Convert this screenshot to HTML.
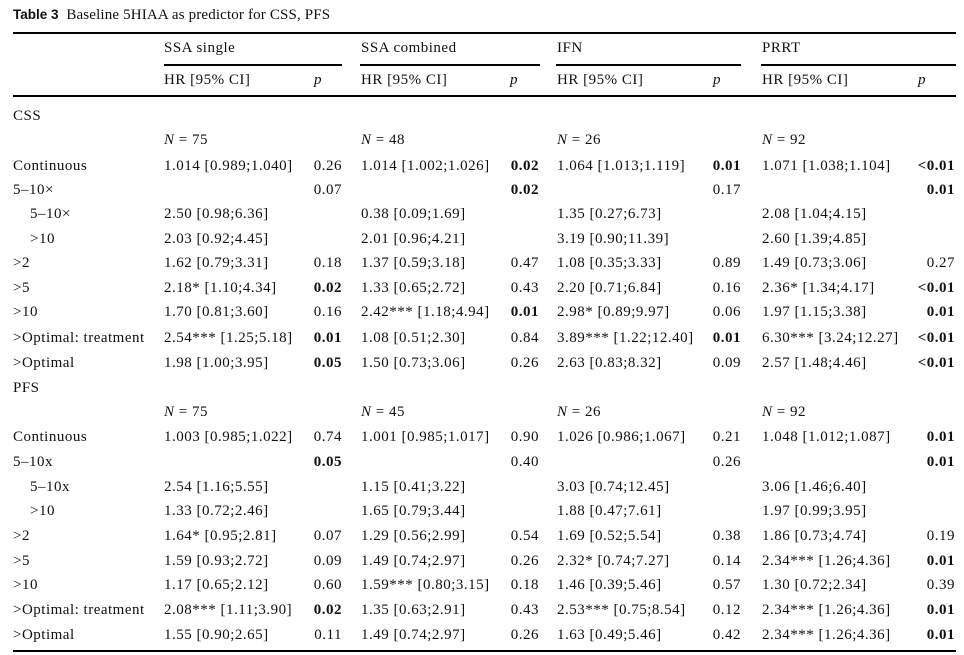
<!DOCTYPE html>
<html><head><meta charset="utf-8"><style>
body{margin:0;width:964px;height:655px;background:#fff;position:relative;overflow:hidden;font-family:"Liberation Serif",serif;font-size:15px;letter-spacing:0.5px;color:#111}
.r{position:absolute;left:0;width:964px;height:18px;line-height:18px;margin-top:1px}
.r span{position:absolute;white-space:nowrap}
.l{left:13px}.i{left:30px}
.a{left:164px}.ap{right:622px}
.b{left:361px}.bp{right:425px}
.c{left:557px}.cp{right:223px}
.d{left:762px}.dp{right:9px}
b{font-weight:bold}
.hl{position:absolute;background:#000}
em{font-style:italic}
</style></head><body>
<div class="r" style="top:5px;letter-spacing:0.15px"><span class="l"><b style="font-family:'Liberation Sans',sans-serif;font-size:13.5px;letter-spacing:0">Table 3</b>&nbsp; Baseline 5HIAA as predictor for CSS, PFS</span></div>
<div class="hl" style="left:13px;top:32px;width:943px;height:2px"></div>
<div class="r" style="top:38px"><span class="a">SSA single</span><span class="b">SSA combined</span><span class="c">IFN</span><span class="d">PRRT</span></div>
<div class="hl" style="left:164px;top:64px;width:178px;height:2px"></div>
<div class="hl" style="left:360px;top:64px;width:180px;height:2px"></div>
<div class="hl" style="left:556px;top:64px;width:185px;height:2px"></div>
<div class="hl" style="left:761px;top:64px;width:195px;height:2px"></div>
<div class="r" style="top:70px"><span class="a">HR [95% CI]</span><span style="left:314px"><em>p</em></span><span class="b">HR [95% CI]</span><span style="left:510px"><em>p</em></span><span class="c">HR [95% CI]</span><span style="left:713px"><em>p</em></span><span class="d">HR [95% CI]</span><span style="left:918px"><em>p</em></span></div>
<div class="hl" style="left:13px;top:95px;width:943px;height:2px"></div>

<div class="r" style="top:106px"><span class="l">CSS</span></div>
<div class="r" style="top:130px"><span class="a"><em>N</em> = 75</span><span class="b"><em>N</em> = 48</span><span class="c"><em>N</em> = 26</span><span class="d"><em>N</em> = 92</span></div>
<div class="r" style="top:156px"><span class="l">Continuous</span><span class="a">1.014 [0.989;1.040]</span><span class="ap">0.26</span><span class="b">1.014 [1.002;1.026]</span><span class="bp"><b>0.02</b></span><span class="c">1.064 [1.013;1.119]</span><span class="cp"><b>0.01</b></span><span class="d">1.071 [1.038;1.104]</span><span class="dp"><b>&lt;0.01</b></span></div>
<div class="r" style="top:180px"><span class="l">5–10×</span><span class="ap">0.07</span><span class="bp"><b>0.02</b></span><span class="cp">0.17</span><span class="dp"><b>0.01</b></span></div>
<div class="r" style="top:204px"><span class="i">5–10×</span><span class="a">2.50 [0.98;6.36]</span><span class="b">0.38 [0.09;1.69]</span><span class="c">1.35 [0.27;6.73]</span><span class="d">2.08 [1.04;4.15]</span></div>
<div class="r" style="top:229px"><span class="i">&gt;10</span><span class="a">2.03 [0.92;4.45]</span><span class="b">2.01 [0.96;4.21]</span><span class="c">3.19 [0.90;11.39]</span><span class="d">2.60 [1.39;4.85]</span></div>
<div class="r" style="top:253px"><span class="l">&gt;2</span><span class="a">1.62 [0.79;3.31]</span><span class="ap">0.18</span><span class="b">1.37 [0.59;3.18]</span><span class="bp">0.47</span><span class="c">1.08 [0.35;3.33]</span><span class="cp">0.89</span><span class="d">1.49 [0.73;3.06]</span><span class="dp">0.27</span></div>
<div class="r" style="top:278px"><span class="l">&gt;5</span><span class="a">2.18* [1.10;4.34]</span><span class="ap"><b>0.02</b></span><span class="b">1.33 [0.65;2.72]</span><span class="bp">0.43</span><span class="c">2.20 [0.71;6.84]</span><span class="cp">0.16</span><span class="d">2.36* [1.34;4.17]</span><span class="dp"><b>&lt;0.01</b></span></div>
<div class="r" style="top:302px"><span class="l">&gt;10</span><span class="a">1.70 [0.81;3.60]</span><span class="ap">0.16</span><span class="b">2.42*** [1.18;4.94]</span><span class="bp"><b>0.01</b></span><span class="c">2.98* [0.89;9.97]</span><span class="cp">0.06</span><span class="d">1.97 [1.15;3.38]</span><span class="dp"><b>0.01</b></span></div>
<div class="r" style="top:328px"><span class="l">&gt;Optimal: treatment</span><span class="a">2.54*** [1.25;5.18]</span><span class="ap"><b>0.01</b></span><span class="b">1.08 [0.51;2.30]</span><span class="bp">0.84</span><span class="c">3.89*** [1.22;12.40]</span><span class="cp"><b>0.01</b></span><span class="d">6.30*** [3.24;12.27]</span><span class="dp"><b>&lt;0.01</b></span></div>
<div class="r" style="top:353px"><span class="l">&gt;Optimal</span><span class="a">1.98 [1.00;3.95]</span><span class="ap"><b>0.05</b></span><span class="b">1.50 [0.73;3.06]</span><span class="bp">0.26</span><span class="c">2.63 [0.83;8.32]</span><span class="cp">0.09</span><span class="d">2.57 [1.48;4.46]</span><span class="dp"><b>&lt;0.01</b></span></div>

<div class="r" style="top:378px"><span class="l">PFS</span></div>
<div class="r" style="top:402px"><span class="a"><em>N</em> = 75</span><span class="b"><em>N</em> = 45</span><span class="c"><em>N</em> = 26</span><span class="d"><em>N</em> = 92</span></div>
<div class="r" style="top:427px"><span class="l">Continuous</span><span class="a">1.003 [0.985;1.022]</span><span class="ap">0.74</span><span class="b">1.001 [0.985;1.017]</span><span class="bp">0.90</span><span class="c">1.026 [0.986;1.067]</span><span class="cp">0.21</span><span class="d">1.048 [1.012;1.087]</span><span class="dp"><b>0.01</b></span></div>
<div class="r" style="top:452px"><span class="l">5–10x</span><span class="ap"><b>0.05</b></span><span class="bp">0.40</span><span class="cp">0.26</span><span class="dp"><b>0.01</b></span></div>
<div class="r" style="top:477px"><span class="i">5–10x</span><span class="a">2.54 [1.16;5.55]</span><span class="b">1.15 [0.41;3.22]</span><span class="c">3.03 [0.74;12.45]</span><span class="d">3.06 [1.46;6.40]</span></div>
<div class="r" style="top:501px"><span class="i">&gt;10</span><span class="a">1.33 [0.72;2.46]</span><span class="b">1.65 [0.79;3.44]</span><span class="c">1.88 [0.47;7.61]</span><span class="d">1.97 [0.99;3.95]</span></div>
<div class="r" style="top:526px"><span class="l">&gt;2</span><span class="a">1.64* [0.95;2.81]</span><span class="ap">0.07</span><span class="b">1.29 [0.56;2.99]</span><span class="bp">0.54</span><span class="c">1.69 [0.52;5.54]</span><span class="cp">0.38</span><span class="d">1.86 [0.73;4.74]</span><span class="dp">0.19</span></div>
<div class="r" style="top:551px"><span class="l">&gt;5</span><span class="a">1.59 [0.93;2.72]</span><span class="ap">0.09</span><span class="b">1.49 [0.74;2.97]</span><span class="bp">0.26</span><span class="c">2.32* [0.74;7.27]</span><span class="cp">0.14</span><span class="d">2.34*** [1.26;4.36]</span><span class="dp"><b>0.01</b></span></div>
<div class="r" style="top:575px"><span class="l">&gt;10</span><span class="a">1.17 [0.65;2.12]</span><span class="ap">0.60</span><span class="b">1.59*** [0.80;3.15]</span><span class="bp">0.18</span><span class="c">1.46 [0.39;5.46]</span><span class="cp">0.57</span><span class="d">1.30 [0.72;2.34]</span><span class="dp">0.39</span></div>
<div class="r" style="top:600px"><span class="l">&gt;Optimal: treatment</span><span class="a">2.08*** [1.11;3.90]</span><span class="ap"><b>0.02</b></span><span class="b">1.35 [0.63;2.91]</span><span class="bp">0.43</span><span class="c">2.53*** [0.75;8.54]</span><span class="cp">0.12</span><span class="d">2.34*** [1.26;4.36]</span><span class="dp"><b>0.01</b></span></div>
<div class="r" style="top:625px"><span class="l">&gt;Optimal</span><span class="a">1.55 [0.90;2.65]</span><span class="ap">0.11</span><span class="b">1.49 [0.74;2.97]</span><span class="bp">0.26</span><span class="c">1.63 [0.49;5.46]</span><span class="cp">0.42</span><span class="d">2.34*** [1.26;4.36]</span><span class="dp"><b>0.01</b></span></div>
<div class="hl" style="left:13px;top:650px;width:943px;height:2px"></div>
</body></html>
